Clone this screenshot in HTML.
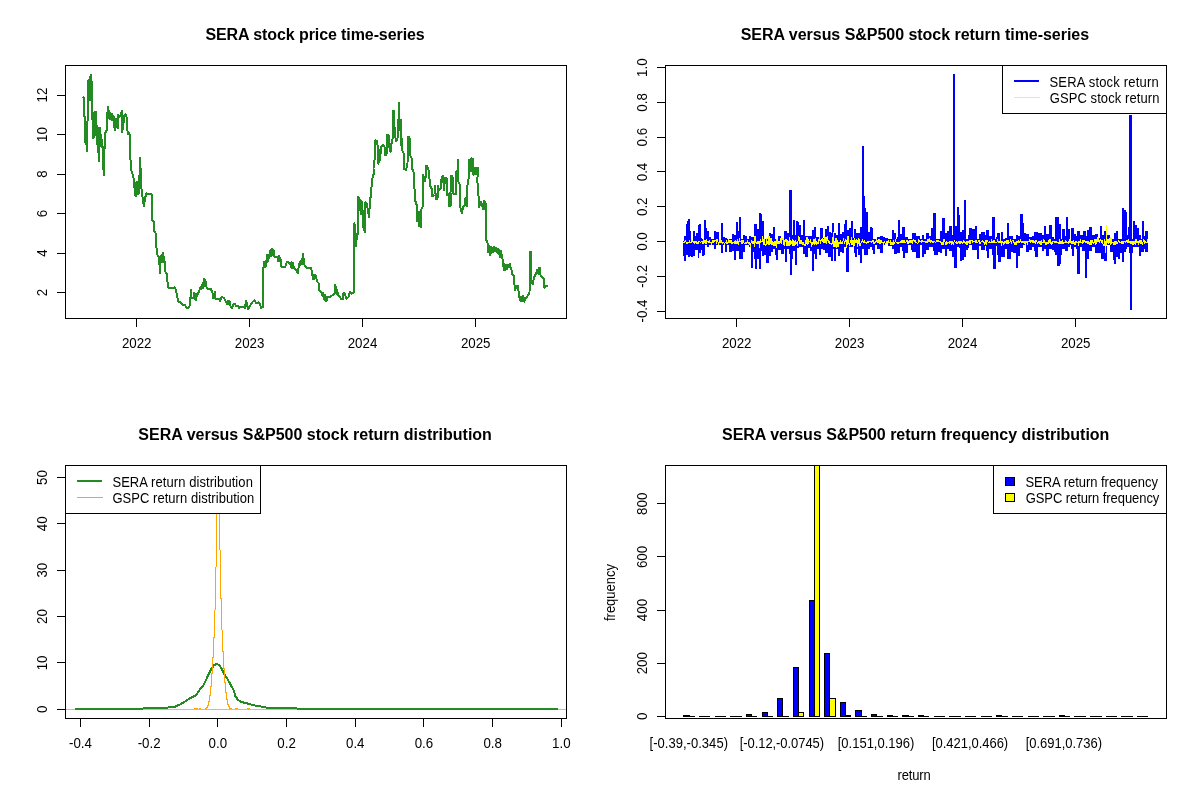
<!DOCTYPE html>
<html><head><meta charset="utf-8"><title>SERA plots</title><style>html,body{margin:0;padding:0;background:#fff}svg{display:block}</style></head><body>
<svg width="1200" height="800" viewBox="0 0 1200 800" font-family="'Liberation Sans', Arial, sans-serif" fill="#000" shape-rendering="crispEdges">
<rect width="1200" height="800" fill="#fff"/>
<polyline points="83.3,97.5 84.0,98.0 84.0,116.0 85.0,117.0 85.3,142.0 86.3,142.5 87.0,151.5 87.3,130.0 87.8,108.0 88.5,80.0 89.0,98.0 89.7,77.0 90.2,100.0 91.0,75.0 91.5,96.0 92.0,82.0 92.5,120.0 93.5,138.5 94.0,113.0 94.5,137.0 95.0,111.5 95.5,134.0 96.0,112.0 96.5,136.0 97.0,126.0 97.5,145.0 98.0,128.0 98.7,161.5 99.3,128.0 99.8,146.0 100.3,127.5 100.8,146.0 101.3,135.0 101.8,147.0 102.3,140.0 103.0,160.0 103.8,175.5 104.5,150.0 105.0,133.0 107.0,130.0 107.5,112.0 108.0,107.0 108.5,118.0 109.0,111.0 109.7,119.0 110.3,113.0 111.0,119.0 111.7,114.0 112.3,120.0 113.5,116.0 114.0,126.0 115.0,130.0 116.0,119.0 117.0,127.0 118.0,128.0 118.0,114.5 119.5,117.0 121.0,114.0 122.0,110.5 122.2,132.5 123.5,123.0 124.0,116.0 125.5,114.0 126.5,117.0 127.0,127.0 128.0,134.0 129.5,133.5 130.0,139.5 130.5,160.0 131.0,170.0 133.0,175.0 134.0,181.0 135.0,195.0 135.5,183.0 136.0,196.5 137.0,182.0 137.8,194.0 138.5,181.0 139.0,193.0 140.0,158.0 141.0,176.0 141.5,189.0 142.5,197.0 144.0,206.5 145.0,198.0 146.5,193.5 151.5,194.0 152.0,196.0 152.2,220.0 154.0,222.0 154.0,231.0 155.5,233.0 155.5,246.0 157.0,249.0 157.5,255.0 159.0,257.0 160.0,273.5 160.5,260.0 161.0,256.0 161.6,262.0 162.2,255.0 162.8,252.5 163.3,262.0 164.0,257.0 164.5,262.0 165.0,261.5 165.5,272.0 167.0,274.5 167.5,282.0 168.5,287.5 170.0,288.5 174.5,287.5 176.0,290.0 177.5,298.0 178.5,301.5 180.0,302.0 183.0,305.5 185.0,305.0 186.5,308.0 188.5,307.5 190.0,305.0 190.5,297.5 191.0,289.5 191.5,298.0 193.5,298.0 194.0,292.5 194.6,299.0 195.2,294.0 196.0,300.0 196.5,294.0 197.0,296.0 200.0,289.0 200.5,287.0 201.3,289.0 202.0,285.0 202.7,288.0 203.3,283.0 204.0,278.5 204.5,286.0 205.2,280.0 206.0,282.0 206.5,287.0 208.0,289.5 211.0,289.0 212.5,293.0 213.0,298.0 215.0,292.0 215.5,298.5 219.0,299.0 220.0,301.0 221.5,297.0 224.0,298.0 226.0,302.0 227.0,304.0 227.8,300.5 228.5,304.5 229.3,300.5 230.0,302.0 230.5,306.0 232.0,308.0 233.5,304.0 235.0,304.0 236.0,306.0 238.5,306.0 239.0,308.0 241.0,306.5 245.0,308.0 246.0,300.5 247.0,304.0 248.0,309.0 250.0,306.0 252.5,302.0 254.5,300.5 256.0,303.0 258.5,302.5 260.0,304.0 261.0,308.0 262.8,307.0 263.0,273.0 264.0,262.0 265.0,267.0 265.7,261.0 266.3,266.0 267.0,255.0 267.8,261.0 268.5,255.5 269.3,258.0 270.0,251.0 270.7,256.0 271.3,249.5 272.0,248.5 272.7,255.0 273.3,250.0 274.0,251.0 274.0,256.5 277.5,256.5 278.0,261.0 278.7,256.0 279.3,261.0 280.0,257.5 281.0,261.0 281.5,267.0 285.0,267.0 287.0,262.0 290.0,263.0 291.0,267.0 291.5,262.5 292.3,268.0 293.0,263.0 293.8,268.0 295.0,269.0 298.0,273.0 299.0,264.0 300.0,265.0 300.5,261.0 301.3,264.0 302.0,259.0 302.6,264.0 303.2,253.5 304.0,264.0 306.0,267.5 311.0,267.5 312.0,273.0 313.0,279.0 313.7,274.5 314.5,279.0 315.2,274.5 316.0,277.0 317.0,281.5 318.5,283.0 319.0,290.5 321.5,292.0 322.5,296.0 323.0,293.0 324.0,299.0 324.7,295.0 325.5,301.0 326.5,301.0 327.3,297.0 329.0,297.5 333.0,295.0 334.5,293.0 335.0,284.5 335.6,293.0 336.2,287.0 336.8,294.5 337.3,290.0 337.8,295.0 339.0,295.5 341.0,299.0 343.0,299.0 343.5,293.0 345.0,294.0 346.5,299.0 348.5,297.0 350.0,292.0 351.5,294.0 354.0,292.0 354.3,247.0 354.5,223.0 355.0,245.0 355.5,233.0 356.0,246.0 357.0,235.0 358.3,234.0 358.0,196.5 359.5,199.0 360.0,207.0 361.0,214.0 361.5,201.0 363.0,215.0 363.5,227.5 365.0,232.5 365.5,202.5 367.0,204.0 368.0,211.0 369.0,217.5 369.5,209.0 370.0,200.5 371.0,194.5 372.0,180.0 373.5,174.5 373.5,168.5 374.0,164.0 375.0,156.0 375.5,140.5 377.0,141.0 378.0,148.0 378.5,164.0 379.0,150.0 380.0,160.0 381.0,147.5 383.0,144.5 384.5,147.0 385.0,155.0 386.5,155.0 387.0,134.5 388.5,135.0 389.0,146.0 390.5,152.0 391.0,145.0 392.5,141.0 392.8,110.5 394.0,111.0 394.7,133.0 396.0,141.0 397.5,139.0 397.8,121.0 398.5,119.0 399.1,102.5 399.5,119.0 399.8,130.0 400.3,120.0 400.7,129.0 401.1,119.5 401.3,145.0 402.2,139.0 402.5,151.0 404.0,154.0 404.0,169.0 406.0,170.0 407.5,164.0 408.0,136.5 409.5,137.0 410.0,155.0 411.5,158.0 412.0,168.0 413.5,172.0 414.5,189.0 415.0,200.0 417.0,206.0 417.0,221.5 418.0,212.0 419.0,226.0 420.0,212.0 421.0,227.5 421.5,209.0 423.0,206.0 423.0,174.5 425.0,181.0 426.0,175.0 426.3,165.5 428.0,168.0 429.0,172.5 430.0,186.0 432.0,189.0 432.0,196.5 434.5,194.5 435.0,185.5 436.0,199.5 437.5,198.5 438.0,186.0 438.5,190.0 441.0,188.5 441.0,180.0 443.0,175.5 444.0,190.0 445.0,177.5 447.0,178.5 447.0,195.0 449.0,194.0 449.0,206.0 450.5,206.0 450.5,193.0 451.0,175.5 452.5,176.5 453.5,194.0 456.0,194.0 456.0,171.5 457.5,171.0 458.0,159.5 458.5,182.0 460.0,185.0 460.0,205.0 461.0,210.0 462.0,213.5 463.0,207.0 465.0,205.0 465.5,198.5 467.0,206.0 467.0,187.0 468.5,180.0 469.0,159.5 470.0,163.0 471.0,171.0 471.5,158.5 473.0,159.0 473.5,175.0 474.0,167.8 475.0,174.0 476.0,168.0 476.8,174.0 477.5,168.0 478.3,168.0 477.3,180.0 478.5,196.0 479.0,207.0 480.0,204.0 481.0,201.5 483.0,209.0 484.0,200.5 485.0,209.0 485.5,202.5 486.0,225.0 486.0,239.0 487.5,243.0 488.0,252.0 489.0,245.5 490.0,255.0 490.8,246.5 491.5,253.0 492.3,247.5 493.0,252.0 494.0,247.0 495.0,251.0 496.0,247.5 497.0,252.0 497.8,248.5 498.5,254.0 499.3,250.0 500.3,257.0 501.0,251.0 502.0,256.0 502.5,259.0 503.0,263.0 504.0,270.0 504.5,264.0 505.3,270.0 506.0,264.5 507.0,269.0 507.8,264.5 508.8,267.0 510.0,264.0 510.5,267.0 512.0,271.0 512.5,274.5 514.0,275.5 514.5,285.0 515.0,290.0 516.5,286.0 518.0,286.0 518.5,291.0 519.5,298.0 520.5,301.0 521.3,297.0 522.0,301.0 522.7,295.5 523.5,300.0 524.5,301.5 525.2,298.0 526.0,298.5 527.5,296.0 529.5,293.0 530.0,251.5 531.2,252.0 531.5,283.0 533.0,284.0 534.0,277.0 536.0,274.0 537.3,269.5 538.0,273.0 538.6,268.5 539.2,274.0 539.7,268.0 540.5,275.0 542.0,277.5 543.5,277.5 543.5,284.0 544.5,288.0 545.5,286.0 547.5,286.0" fill="none" stroke="#228B22" stroke-width="2" stroke-linejoin="round" stroke-linecap="round"/>
<rect x="65.50" y="65.50" width="501.00" height="253.00" fill="none" stroke="#000" stroke-width="1"/>
<line x1="136.00" y1="318.50" x2="476.00" y2="318.50" stroke="#000" stroke-width="1"/>
<line x1="136.50" y1="318.00" x2="136.50" y2="327.00" stroke="#000" stroke-width="1"/>
<text transform="translate(136.70 348.23) scale(1 1.085)" text-anchor="middle" font-size="13.33">2022</text>
<line x1="249.50" y1="318.00" x2="249.50" y2="327.00" stroke="#000" stroke-width="1"/>
<text transform="translate(249.60 348.23) scale(1 1.085)" text-anchor="middle" font-size="13.33">2023</text>
<line x1="362.50" y1="318.00" x2="362.50" y2="327.00" stroke="#000" stroke-width="1"/>
<text transform="translate(362.50 348.23) scale(1 1.085)" text-anchor="middle" font-size="13.33">2024</text>
<line x1="475.50" y1="318.00" x2="475.50" y2="327.00" stroke="#000" stroke-width="1"/>
<text transform="translate(475.70 348.23) scale(1 1.085)" text-anchor="middle" font-size="13.33">2025</text>
<line x1="65.50" y1="95.00" x2="65.50" y2="293.00" stroke="#000" stroke-width="1"/>
<line x1="57.00" y1="292.50" x2="66.00" y2="292.50" stroke="#000" stroke-width="1"/>
<text transform="translate(46.94 292.50) rotate(-90) scale(1 1.085)" text-anchor="middle" font-size="13.33">2</text>
<line x1="57.00" y1="253.50" x2="66.00" y2="253.50" stroke="#000" stroke-width="1"/>
<text transform="translate(46.94 253.00) rotate(-90) scale(1 1.085)" text-anchor="middle" font-size="13.33">4</text>
<line x1="57.00" y1="213.50" x2="66.00" y2="213.50" stroke="#000" stroke-width="1"/>
<text transform="translate(46.94 213.50) rotate(-90) scale(1 1.085)" text-anchor="middle" font-size="13.33">6</text>
<line x1="57.00" y1="174.50" x2="66.00" y2="174.50" stroke="#000" stroke-width="1"/>
<text transform="translate(46.94 174.00) rotate(-90) scale(1 1.085)" text-anchor="middle" font-size="13.33">8</text>
<line x1="57.00" y1="134.50" x2="66.00" y2="134.50" stroke="#000" stroke-width="1"/>
<text transform="translate(46.94 134.50) rotate(-90) scale(1 1.085)" text-anchor="middle" font-size="13.33">10</text>
<line x1="57.00" y1="95.50" x2="66.00" y2="95.50" stroke="#000" stroke-width="1"/>
<text transform="translate(46.94 95.00) rotate(-90) scale(1 1.085)" text-anchor="middle" font-size="13.33">12</text>
<text x="205.40" y="40.00" text-anchor="start" font-size="16" font-weight="bold" textLength="219.3" lengthAdjust="spacing">SERA stock price time-series</text>
<path d="M683 241.0h1V256.0h-1zM684 236.0h1V261.0h-1zM685 236.0h1V261.0h-1zM686 224.0h1V255.0h-1zM687 221.0h1V255.0h-1zM688 219.0h1V257.0h-1zM689 219.0h1V257.0h-1zM690 231.0h1V256.0h-1zM691 240.0h1V257.0h-1zM692 240.0h1V257.0h-1zM693 231.0h1V256.0h-1zM694 231.0h1V256.0h-1zM695 236.0h1V250.0h-1zM696 233.0h1V250.0h-1zM697 233.0h1V250.0h-1zM698 225.0h1V258.0h-1zM699 224.0h1V253.0h-1zM700 224.0h1V253.0h-1zM701 238.0h1V250.0h-1zM702 239.0h1V256.0h-1zM703 239.0h1V256.0h-1zM704 220.0h1V255.0h-1zM705 220.0h1V245.0h-1zM706 228.0h1V245.0h-1zM707 231.0h1V247.0h-1zM708 231.0h1V247.0h-1zM709 237.0h1V245.0h-1zM710 237.0h1V245.0h-1zM711 239.0h1V245.0h-1zM712 239.0h1V245.0h-1zM713 239.0h1V245.0h-1zM714 231.0h1V249.0h-1zM715 231.0h1V249.0h-1zM716 232.0h1V245.0h-1zM717 232.0h1V245.0h-1zM718 232.0h1V245.0h-1zM719 239.0h1V245.0h-1zM720 239.0h1V245.0h-1zM721 223.0h1V253.0h-1zM722 223.0h1V253.0h-1zM723 237.0h1V245.0h-1zM724 237.0h1V245.0h-1zM725 238.0h1V252.0h-1zM726 238.0h1V252.0h-1zM727 239.0h1V245.0h-1zM728 239.0h1V245.0h-1zM729 239.0h1V252.0h-1zM730 239.0h1V252.0h-1zM731 239.0h1V252.0h-1zM732 234.0h1V251.0h-1zM733 234.0h1V251.0h-1zM734 235.0h1V260.0h-1zM735 235.0h1V260.0h-1zM736 222.0h1V251.0h-1zM737 222.0h1V251.0h-1zM738 231.0h1V251.0h-1zM739 217.0h1V259.0h-1zM740 217.0h1V259.0h-1zM741 239.0h1V259.0h-1zM742 239.0h1V259.0h-1zM743 235.0h1V252.0h-1zM744 235.0h1V252.0h-1zM745 236.0h1V245.0h-1zM746 236.0h1V245.0h-1zM747 239.0h1V245.0h-1zM748 239.0h1V245.0h-1zM749 236.0h1V247.0h-1zM750 236.0h1V247.0h-1zM751 237.0h1V268.0h-1zM752 237.0h1V268.0h-1zM753 237.0h1V252.0h-1zM754 224.0h1V259.0h-1zM755 224.0h1V269.0h-1zM756 224.0h1V269.0h-1zM757 229.0h1V259.0h-1zM758 229.0h1V259.0h-1zM759 213.0h1V269.0h-1zM760 213.0h1V269.0h-1zM761 214.0h1V251.0h-1zM762 221.0h1V256.0h-1zM763 221.0h1V256.0h-1zM764 239.0h1V255.0h-1zM765 239.0h1V255.0h-1zM766 239.0h1V263.0h-1zM767 239.0h1V263.0h-1zM768 239.0h1V263.0h-1zM769 233.0h1V256.0h-1zM770 233.0h1V256.0h-1zM771 234.0h1V252.0h-1zM772 234.0h1V252.0h-1zM773 227.0h1V249.0h-1zM774 227.0h1V249.0h-1zM775 239.0h1V255.0h-1zM776 239.0h1V260.0h-1zM777 239.0h1V260.0h-1zM778 236.0h1V250.0h-1zM779 236.0h1V250.0h-1zM780 236.0h1V250.0h-1zM781 239.0h1V254.0h-1zM782 239.0h1V254.0h-1zM783 239.0h1V254.0h-1zM784 231.0h1V249.0h-1zM785 231.0h1V262.0h-1zM786 231.0h1V262.0h-1zM787 233.0h1V249.0h-1zM788 233.0h1V249.0h-1zM789 190.0h1V254.0h-1zM790 190.0h1V274.5h-1zM791 190.0h1V274.5h-1zM792 235.0h1V259.0h-1zM793 220.0h1V251.0h-1zM794 220.0h1V251.0h-1zM795 235.0h1V265.0h-1zM796 221.0h1V265.0h-1zM797 221.0h1V248.0h-1zM798 222.0h1V248.0h-1zM799 225.0h1V247.0h-1zM800 225.0h1V247.0h-1zM801 235.0h1V247.0h-1zM802 235.0h1V247.0h-1zM803 220.0h1V254.0h-1zM804 220.0h1V254.0h-1zM805 236.0h1V257.0h-1zM806 236.0h1V257.0h-1zM807 236.0h1V257.0h-1zM808 236.0h1V248.0h-1zM809 236.0h1V248.0h-1zM810 236.0h1V251.0h-1zM811 236.0h1V251.0h-1zM812 230.0h1V271.0h-1zM813 230.0h1V271.0h-1zM814 227.0h1V254.0h-1zM815 227.0h1V259.0h-1zM816 237.0h1V259.0h-1zM817 237.0h1V249.0h-1zM818 237.0h1V249.0h-1zM819 237.0h1V255.0h-1zM820 228.0h1V255.0h-1zM821 228.0h1V249.0h-1zM822 228.0h1V249.0h-1zM823 238.0h1V250.0h-1zM824 238.0h1V250.0h-1zM825 229.0h1V253.0h-1zM826 229.0h1V253.0h-1zM827 226.0h1V253.0h-1zM828 226.0h1V257.0h-1zM829 232.0h1V257.0h-1zM830 232.0h1V257.0h-1zM831 233.0h1V261.0h-1zM832 223.0h1V261.0h-1zM833 223.0h1V249.0h-1zM834 233.0h1V261.0h-1zM835 233.0h1V261.0h-1zM836 235.0h1V249.0h-1zM837 235.0h1V249.0h-1zM838 223.0h1V256.0h-1zM839 223.0h1V256.0h-1zM840 234.0h1V252.0h-1zM841 234.0h1V252.0h-1zM842 232.0h1V253.0h-1zM843 232.0h1V253.0h-1zM844 224.0h1V247.0h-1zM845 220.0h1V247.0h-1zM846 220.0h1V272.0h-1zM847 230.0h1V272.0h-1zM848 230.0h1V272.0h-1zM849 228.0h1V247.0h-1zM850 228.0h1V247.0h-1zM851 221.0h1V247.0h-1zM852 221.0h1V247.0h-1zM853 238.0h1V247.0h-1zM854 229.0h1V253.0h-1zM855 229.0h1V257.0h-1zM856 233.0h1V257.0h-1zM857 233.0h1V249.0h-1zM858 233.0h1V255.0h-1zM859 233.0h1V255.0h-1zM860 227.0h1V263.0h-1zM861 227.0h1V263.0h-1zM862 146.0h1V249.0h-1zM863 146.0h1V249.0h-1zM864 196.0h1V255.0h-1zM865 208.0h1V255.0h-1zM866 212.0h1V255.0h-1zM867 212.0h1V255.0h-1zM868 232.0h1V249.0h-1zM869 232.0h1V249.0h-1zM870 227.0h1V247.0h-1zM871 227.0h1V247.0h-1zM872 228.0h1V250.0h-1zM873 239.0h1V254.0h-1zM874 239.0h1V254.0h-1zM875 239.0h1V245.0h-1zM876 239.0h1V245.0h-1zM877 237.0h1V249.0h-1zM878 237.0h1V249.0h-1zM879 237.0h1V249.0h-1zM880 236.0h1V253.0h-1zM881 236.0h1V253.0h-1zM882 236.0h1V253.0h-1zM883 237.0h1V245.0h-1zM884 237.0h1V245.0h-1zM885 238.0h1V243.0h-1zM886 238.0h1V243.0h-1zM887 238.0h1V243.0h-1zM888 239.0h1V246.0h-1zM889 239.0h1V246.0h-1zM890 239.0h1V246.0h-1zM891 239.0h1V246.0h-1zM892 230.0h1V249.0h-1zM893 230.0h1V249.0h-1zM894 233.0h1V254.0h-1zM895 233.0h1V254.0h-1zM896 239.0h1V254.0h-1zM897 237.0h1V253.0h-1zM898 220.0h1V253.0h-1zM899 220.0h1V253.0h-1zM900 234.0h1V247.0h-1zM901 234.0h1V247.0h-1zM902 227.0h1V251.0h-1zM903 227.0h1V258.0h-1zM904 227.0h1V258.0h-1zM905 237.0h1V253.0h-1zM906 237.0h1V253.0h-1zM907 237.0h1V253.0h-1zM908 239.0h1V245.0h-1zM909 239.0h1V245.0h-1zM910 239.0h1V245.0h-1zM911 239.0h1V250.0h-1zM912 233.0h1V252.0h-1zM913 233.0h1V252.0h-1zM914 233.0h1V252.0h-1zM915 233.0h1V252.0h-1zM916 236.0h1V258.0h-1zM917 236.0h1V258.0h-1zM918 236.0h1V258.0h-1zM919 236.0h1V258.0h-1zM920 239.0h1V245.0h-1zM921 239.0h1V245.0h-1zM922 235.0h1V257.0h-1zM923 235.0h1V257.0h-1zM924 239.0h1V254.0h-1zM925 239.0h1V254.0h-1zM926 233.0h1V250.0h-1zM927 233.0h1V250.0h-1zM928 233.0h1V250.0h-1zM929 236.0h1V247.0h-1zM930 236.0h1V247.0h-1zM931 228.0h1V247.0h-1zM932 228.0h1V247.0h-1zM933 213.0h1V251.0h-1zM934 213.0h1V255.0h-1zM935 213.0h1V255.0h-1zM936 239.0h1V255.0h-1zM937 239.0h1V255.0h-1zM938 239.0h1V252.0h-1zM939 239.0h1V252.0h-1zM940 231.0h1V253.0h-1zM941 231.0h1V253.0h-1zM942 218.0h1V249.0h-1zM943 218.0h1V249.0h-1zM944 218.0h1V249.0h-1zM945 233.0h1V256.0h-1zM946 233.0h1V256.0h-1zM947 231.0h1V249.0h-1zM948 231.0h1V249.0h-1zM949 226.0h1V251.0h-1zM950 226.0h1V251.0h-1zM951 226.0h1V251.0h-1zM952 235.0h1V257.0h-1zM953 73.8h1V257.0h-1zM954 73.8h1V268.0h-1zM955 226.0h1V268.0h-1zM956 226.0h1V268.0h-1zM957 207.0h1V247.0h-1zM958 207.0h1V247.0h-1zM959 215.0h1V248.0h-1zM960 232.0h1V261.0h-1zM961 232.0h1V261.0h-1zM962 230.0h1V260.0h-1zM963 230.0h1V260.0h-1zM964 200.0h1V257.0h-1zM965 200.0h1V257.0h-1zM966 239.0h1V250.0h-1zM967 239.0h1V250.0h-1zM968 235.0h1V248.0h-1zM969 228.0h1V245.0h-1zM970 228.0h1V245.0h-1zM971 228.0h1V245.0h-1zM972 229.0h1V250.0h-1zM973 229.0h1V250.0h-1zM974 229.0h1V250.0h-1zM975 226.0h1V250.0h-1zM976 226.0h1V250.0h-1zM977 239.0h1V259.0h-1zM978 239.0h1V259.0h-1zM979 234.0h1V246.0h-1zM980 234.0h1V246.0h-1zM981 232.0h1V250.0h-1zM982 232.0h1V250.0h-1zM983 232.0h1V250.0h-1zM984 232.0h1V250.0h-1zM985 235.0h1V246.0h-1zM986 230.0h1V251.0h-1zM987 230.0h1V258.0h-1zM988 230.0h1V258.0h-1zM989 236.0h1V249.0h-1zM990 236.0h1V249.0h-1zM991 236.0h1V249.0h-1zM992 217.0h1V255.0h-1zM993 217.0h1V269.0h-1zM994 217.0h1V269.0h-1zM995 239.0h1V269.0h-1zM996 237.0h1V246.0h-1zM997 233.0h1V255.0h-1zM998 233.0h1V262.0h-1zM999 233.0h1V262.0h-1zM1000 239.0h1V262.0h-1zM1001 232.0h1V257.0h-1zM1002 232.0h1V257.0h-1zM1003 239.0h1V257.0h-1zM1004 239.0h1V257.0h-1zM1005 238.0h1V249.0h-1zM1006 238.0h1V249.0h-1zM1007 223.0h1V259.0h-1zM1008 223.0h1V259.0h-1zM1009 236.0h1V259.0h-1zM1010 236.0h1V259.0h-1zM1011 236.0h1V252.0h-1zM1012 236.0h1V252.0h-1zM1013 239.0h1V253.0h-1zM1014 239.0h1V253.0h-1zM1015 239.0h1V253.0h-1zM1016 235.0h1V268.0h-1zM1017 235.0h1V268.0h-1zM1018 236.0h1V256.0h-1zM1019 236.0h1V256.0h-1zM1020 214.0h1V248.0h-1zM1021 214.0h1V248.0h-1zM1022 214.0h1V248.0h-1zM1023 223.0h1V245.0h-1zM1024 233.0h1V245.0h-1zM1025 233.0h1V245.0h-1zM1026 234.0h1V252.0h-1zM1027 234.0h1V252.0h-1zM1028 234.0h1V252.0h-1zM1029 237.0h1V250.0h-1zM1030 237.0h1V250.0h-1zM1031 237.0h1V250.0h-1zM1032 236.0h1V247.0h-1zM1033 236.0h1V247.0h-1zM1034 232.0h1V251.0h-1zM1035 232.0h1V257.0h-1zM1036 232.0h1V257.0h-1zM1037 232.0h1V257.0h-1zM1038 233.0h1V247.0h-1zM1039 233.0h1V247.0h-1zM1040 233.0h1V247.0h-1zM1041 233.0h1V247.0h-1zM1042 235.0h1V251.0h-1zM1043 235.0h1V251.0h-1zM1044 226.0h1V249.0h-1zM1045 226.0h1V249.0h-1zM1046 234.0h1V256.0h-1zM1047 234.0h1V256.0h-1zM1048 234.0h1V256.0h-1zM1049 225.0h1V249.0h-1zM1050 225.0h1V249.0h-1zM1051 225.0h1V249.0h-1zM1052 237.0h1V250.0h-1zM1053 237.0h1V250.0h-1zM1054 239.0h1V252.0h-1zM1055 217.0h1V255.0h-1zM1056 217.0h1V255.0h-1zM1057 217.0h1V266.0h-1zM1058 217.0h1V266.0h-1zM1059 224.0h1V266.0h-1zM1060 224.0h1V264.0h-1zM1061 239.0h1V255.0h-1zM1062 229.0h1V249.0h-1zM1063 229.0h1V249.0h-1zM1064 229.0h1V249.0h-1zM1065 236.0h1V251.0h-1zM1066 217.0h1V251.0h-1zM1067 217.0h1V251.0h-1zM1068 229.0h1V247.0h-1zM1069 229.0h1V247.0h-1zM1070 239.0h1V245.0h-1zM1071 228.0h1V249.0h-1zM1072 228.0h1V256.0h-1zM1073 228.0h1V256.0h-1zM1074 234.0h1V247.0h-1zM1075 234.0h1V247.0h-1zM1076 236.0h1V249.0h-1zM1077 231.0h1V274.0h-1zM1078 231.0h1V274.0h-1zM1079 231.0h1V274.0h-1zM1080 235.0h1V247.0h-1zM1081 235.0h1V247.0h-1zM1082 235.0h1V251.0h-1zM1083 231.0h1V251.0h-1zM1084 231.0h1V251.0h-1zM1085 231.0h1V278.0h-1zM1086 236.0h1V278.0h-1zM1087 230.0h1V259.0h-1zM1088 230.0h1V259.0h-1zM1089 227.0h1V251.0h-1zM1090 227.0h1V251.0h-1zM1091 227.0h1V251.0h-1zM1092 235.0h1V247.0h-1zM1093 235.0h1V247.0h-1zM1094 235.0h1V247.0h-1zM1095 234.0h1V253.0h-1zM1096 234.0h1V253.0h-1zM1097 234.0h1V253.0h-1zM1098 238.0h1V253.0h-1zM1099 238.0h1V253.0h-1zM1100 226.0h1V253.0h-1zM1101 226.0h1V259.0h-1zM1102 235.0h1V259.0h-1zM1103 235.0h1V259.0h-1zM1104 231.0h1V261.0h-1zM1105 231.0h1V261.0h-1zM1106 239.0h1V261.0h-1zM1107 235.0h1V245.0h-1zM1108 235.0h1V245.0h-1zM1109 235.0h1V245.0h-1zM1110 239.0h1V252.0h-1zM1111 239.0h1V252.0h-1zM1112 239.0h1V252.0h-1zM1113 239.0h1V260.0h-1zM1114 233.0h1V264.0h-1zM1115 233.0h1V264.0h-1zM1116 231.0h1V257.0h-1zM1117 231.0h1V257.0h-1zM1118 239.0h1V259.0h-1zM1119 239.0h1V259.0h-1zM1120 239.0h1V253.0h-1zM1121 239.0h1V253.0h-1zM1122 208.0h1V262.0h-1zM1123 208.0h1V262.0h-1zM1124 210.0h1V252.0h-1zM1125 210.0h1V252.0h-1zM1126 212.0h1V249.0h-1zM1127 235.0h1V247.0h-1zM1128 227.0h1V247.0h-1zM1129 115.2h1V253.0h-1zM1130 115.2h1V310.0h-1zM1131 115.2h1V310.0h-1zM1132 239.0h1V253.0h-1zM1133 221.0h1V247.0h-1zM1134 221.0h1V247.0h-1zM1135 225.0h1V247.0h-1zM1136 225.0h1V247.0h-1zM1137 228.0h1V247.0h-1zM1138 228.0h1V247.0h-1zM1139 235.0h1V256.0h-1zM1140 235.0h1V256.0h-1zM1141 239.0h1V252.0h-1zM1142 221.0h1V252.0h-1zM1143 221.0h1V252.0h-1zM1144 236.0h1V249.0h-1zM1145 231.0h1V252.0h-1zM1146 231.0h1V252.0h-1zM1147 231.0h1V252.0h-1z" fill="#0000FF"/>
<polyline points="683.5,241.7 684.0,242.7 684.5,241.7 685.0,241.6 685.5,240.8 686.0,241.7 686.5,243.4 687.0,242.6 687.5,243.3 688.0,242.3 688.5,242.5 689.0,242.2 689.5,239.8 690.0,243.1 690.5,242.7 691.0,242.6 691.5,239.8 692.0,239.7 692.5,240.8 693.0,241.4 693.5,242.4 694.0,241.9 694.5,242.7 695.0,241.2 695.5,242.4 696.0,242.5 696.5,241.1 697.0,244.2 697.5,242.7 698.0,243.6 698.5,241.2 699.0,241.0 699.5,241.6 700.0,241.9 700.5,242.8 701.0,242.3 701.5,241.4 702.0,240.8 702.5,241.3 703.0,243.6 703.5,240.9 704.0,242.3 704.5,242.6 705.0,240.1 705.5,242.1 706.0,243.7 706.5,239.4 707.0,241.6 707.5,241.9 708.0,240.9 708.5,242.6 709.0,241.9 709.5,240.1 710.0,243.1 710.5,242.9 711.0,243.2 711.5,243.9 712.0,242.5 712.5,242.2 713.0,240.3 713.5,242.8 714.0,241.2 714.5,241.4 715.0,240.4 715.5,240.7 716.0,241.3 716.5,243.7 717.0,239.4 717.5,240.1 718.0,242.3 718.5,243.9 719.0,242.8 719.5,239.5 720.0,239.0 720.5,242.5 721.0,241.0 721.5,240.5 722.0,243.3 722.5,243.4 723.0,242.2 723.5,242.3 724.0,242.6 724.5,244.1 725.0,242.8 725.5,242.7 726.0,242.7 726.5,240.0 727.0,243.7 727.5,243.2 728.0,242.7 728.5,239.4 729.0,241.2 729.5,243.1 730.0,239.6 730.5,241.8 731.0,243.3 731.5,240.3 732.0,244.1 732.5,242.7 733.0,241.8 733.5,242.4 734.0,242.8 734.5,242.2 735.0,243.8 735.5,240.9 736.0,241.3 736.5,243.7 737.0,242.0 737.5,240.6 738.0,243.5 738.5,244.3 739.0,241.3 739.5,239.8 740.0,241.8 740.5,241.8 741.0,241.5 741.5,244.2 742.0,240.4 742.5,244.0 743.0,240.0 743.5,240.7 744.0,243.0 744.5,243.8 745.0,244.1 745.5,242.9 746.0,242.4 746.5,242.4 747.0,243.4 747.5,241.6 748.0,242.7 748.5,243.4 749.0,242.0 749.5,243.9 750.0,243.4 750.5,247.0 751.0,242.8 751.5,240.9 752.0,241.1 752.5,242.0 753.0,244.3 753.5,241.2 754.0,243.0 754.5,246.6 755.0,236.2 755.5,239.2 756.0,242.6 756.5,243.0 757.0,242.6 757.5,240.9 758.0,243.6 758.5,242.7 759.0,240.7 759.5,247.8 760.0,242.9 760.5,240.6 761.0,241.8 761.5,241.4 762.0,241.8 762.5,236.2 763.0,240.8 763.5,244.5 764.0,239.1 764.5,241.8 765.0,244.4 765.5,244.1 766.0,245.7 766.5,237.7 767.0,241.1 767.5,241.1 768.0,243.6 768.5,244.7 769.0,236.2 769.5,244.7 770.0,238.4 770.5,243.7 771.0,238.3 771.5,242.4 772.0,245.0 772.5,241.6 773.0,242.5 773.5,244.0 774.0,242.4 774.5,241.8 775.0,245.8 775.5,244.6 776.0,241.3 776.5,247.8 777.0,239.1 777.5,244.3 778.0,241.3 778.5,242.3 779.0,243.8 779.5,242.6 780.0,243.6 780.5,238.2 781.0,238.2 781.5,243.5 782.0,239.6 782.5,239.4 783.0,238.3 783.5,245.2 784.0,243.9 784.5,245.7 785.0,239.7 785.5,242.0 786.0,239.1 786.5,243.9 787.0,246.0 787.5,239.8 788.0,245.9 788.5,244.5 789.0,241.6 789.5,237.1 790.0,245.5 790.5,241.8 791.0,240.5 791.5,243.0 792.0,243.0 792.5,245.7 793.0,239.4 793.5,244.8 794.0,245.7 794.5,245.6 795.0,241.5 795.5,240.1 796.0,244.5 796.5,242.3 797.0,242.3 797.5,245.6 798.0,241.3 798.5,236.3 799.0,241.0 799.5,237.4 800.0,244.0 800.5,242.8 801.0,240.5 801.5,242.0 802.0,244.1 802.5,242.2 803.0,245.3 803.5,241.8 804.0,244.6 804.5,245.7 805.0,246.0 805.5,240.3 806.0,244.2 806.5,237.3 807.0,239.3 807.5,237.1 808.0,244.7 808.5,238.9 809.0,242.0 809.5,241.5 810.0,241.9 810.5,240.5 811.0,242.6 811.5,246.5 812.0,242.1 812.5,243.3 813.0,244.5 813.5,241.5 814.0,238.9 814.5,240.6 815.0,244.7 815.5,237.9 816.0,240.5 816.5,244.5 817.0,244.0 817.5,242.0 818.0,244.0 818.5,242.4 819.0,239.1 819.5,238.1 820.0,240.4 820.5,244.3 821.0,240.6 821.5,239.7 822.0,240.1 822.5,238.2 823.0,241.7 823.5,239.1 824.0,242.9 824.5,236.2 825.0,242.8 825.5,240.4 826.0,237.1 826.5,243.8 827.0,241.3 827.5,236.4 828.0,239.8 828.5,242.7 829.0,240.9 829.5,243.9 830.0,243.9 830.5,243.7 831.0,242.8 831.5,245.3 832.0,243.6 832.5,243.1 833.0,236.8 833.5,232.5 834.0,247.0 834.5,241.3 835.0,240.8 835.5,246.9 836.0,237.6 836.5,243.2 837.0,247.8 837.5,239.7 838.0,243.7 838.5,246.7 839.0,241.7 839.5,243.4 840.0,244.3 840.5,239.7 841.0,241.8 841.5,242.7 842.0,244.1 842.5,241.9 843.0,241.5 843.5,239.5 844.0,241.1 844.5,244.2 845.0,242.3 845.5,239.9 846.0,239.9 846.5,247.8 847.0,244.8 847.5,243.6 848.0,236.2 848.5,243.6 849.0,243.2 849.5,246.2 850.0,243.1 850.5,241.8 851.0,243.3 851.5,237.1 852.0,244.6 852.5,242.8 853.0,240.2 853.5,245.3 854.0,246.5 854.5,238.5 855.0,240.3 855.5,242.7 856.0,242.5 856.5,241.0 857.0,239.6 857.5,247.3 858.0,244.6 858.5,239.0 859.0,238.6 859.5,246.3 860.0,243.5 860.5,244.7 861.0,243.2 861.5,240.7 862.0,242.4 862.5,238.8 863.0,240.9 863.5,241.9 864.0,242.8 864.5,240.9 865.0,241.8 865.5,242.7 866.0,242.6 866.5,243.0 867.0,242.3 867.5,241.5 868.0,243.2 868.5,242.1 869.0,240.8 869.5,241.1 870.0,242.0 870.5,241.8 871.0,242.2 871.5,242.0 872.0,242.3 872.5,241.8 873.0,240.1 873.5,242.6 874.0,243.6 874.5,242.7 875.0,241.8 875.5,242.5 876.0,240.9 876.5,239.8 877.0,242.1 877.5,240.9 878.0,242.9 878.5,240.8 879.0,239.4 879.5,240.8 880.0,243.8 880.5,241.6 881.0,240.4 881.5,241.1 882.0,242.6 882.5,242.6 883.0,242.2 883.5,243.7 884.0,242.8 884.5,242.0 885.0,242.7 885.5,243.9 886.0,243.1 886.5,243.2 887.0,240.8 887.5,241.8 888.0,242.8 888.5,241.7 889.0,243.2 889.5,242.7 890.0,243.0 890.5,241.8 891.0,244.6 891.5,243.4 892.0,241.8 892.5,242.1 893.0,244.6 893.5,241.6 894.0,243.0 894.5,243.1 895.0,242.0 895.5,240.7 896.0,242.2 896.5,242.4 897.0,243.3 897.5,242.9 898.0,242.0 898.5,243.0 899.0,242.6 899.5,242.2 900.0,242.1 900.5,241.7 901.0,242.8 901.5,240.8 902.0,241.3 902.5,242.0 903.0,240.3 903.5,241.5 904.0,239.7 904.5,241.2 905.0,242.7 905.5,242.7 906.0,241.9 906.5,241.7 907.0,240.4 907.5,244.1 908.0,242.6 908.5,243.3 909.0,241.0 909.5,241.8 910.0,239.9 910.5,242.9 911.0,243.1 911.5,239.8 912.0,241.9 912.5,242.7 913.0,240.0 913.5,239.9 914.0,240.8 914.5,241.3 915.0,240.4 915.5,242.0 916.0,242.3 916.5,242.7 917.0,242.8 917.5,243.7 918.0,243.3 918.5,240.5 919.0,241.4 919.5,240.8 920.0,240.8 920.5,241.9 921.0,242.0 921.5,242.6 922.0,240.2 922.5,240.6 923.0,242.0 923.5,241.8 924.0,241.6 924.5,241.9 925.0,241.1 925.5,242.8 926.0,242.4 926.5,241.9 927.0,241.2 927.5,241.8 928.0,239.4 928.5,240.9 929.0,242.0 929.5,240.3 930.0,242.2 930.5,242.2 931.0,240.4 931.5,241.7 932.0,241.6 932.5,242.5 933.0,242.7 933.5,242.0 934.0,241.0 934.5,241.8 935.0,241.9 935.5,242.8 936.0,242.3 936.5,241.2 937.0,240.4 937.5,241.6 938.0,241.1 938.5,240.7 939.0,241.9 939.5,241.4 940.0,242.1 940.5,242.6 941.0,241.5 941.5,244.6 942.0,241.6 942.5,243.3 943.0,242.1 943.5,243.3 944.0,239.4 944.5,241.1 945.0,242.3 945.5,242.7 946.0,244.6 946.5,242.4 947.0,243.5 947.5,242.9 948.0,243.1 948.5,242.6 949.0,241.8 949.5,242.6 950.0,240.8 950.5,243.4 951.0,240.8 951.5,242.3 952.0,244.4 952.5,241.7 953.0,242.0 953.5,243.3 954.0,242.0 954.5,241.1 955.0,242.3 955.5,242.7 956.0,242.8 956.5,241.1 957.0,244.0 957.5,243.9 958.0,242.0 958.5,242.3 959.0,241.5 959.5,243.6 960.0,241.2 960.5,242.8 961.0,241.4 961.5,241.2 962.0,242.8 962.5,243.5 963.0,242.0 963.5,241.2 964.0,242.9 964.5,241.9 965.0,242.4 965.5,243.8 966.0,243.3 966.5,241.4 967.0,244.6 967.5,242.0 968.0,242.9 968.5,241.3 969.0,241.9 969.5,240.0 970.0,244.1 970.5,243.6 971.0,240.6 971.5,240.3 972.0,240.1 972.5,243.4 973.0,241.5 973.5,241.9 974.0,241.6 974.5,241.9 975.0,240.7 975.5,242.0 976.0,240.3 976.5,241.9 977.0,242.4 977.5,242.5 978.0,241.7 978.5,241.0 979.0,242.2 979.5,241.4 980.0,243.8 980.5,242.9 981.0,241.9 981.5,241.5 982.0,241.2 982.5,240.9 983.0,241.6 983.5,242.3 984.0,242.6 984.5,242.7 985.0,244.4 985.5,241.2 986.0,242.0 986.5,244.6 987.0,239.9 987.5,241.4 988.0,242.2 988.5,242.2 989.0,242.5 989.5,241.7 990.0,242.4 990.5,242.1 991.0,242.9 991.5,239.8 992.0,241.0 992.5,242.0 993.0,240.8 993.5,240.8 994.0,242.7 994.5,241.3 995.0,242.7 995.5,242.9 996.0,242.4 996.5,242.6 997.0,241.9 997.5,240.4 998.0,242.0 998.5,242.5 999.0,241.4 999.5,241.9 1000.0,242.9 1000.5,241.0 1001.0,242.7 1001.5,244.1 1002.0,241.4 1002.5,242.2 1003.0,241.8 1003.5,243.8 1004.0,242.4 1004.5,243.0 1005.0,241.2 1005.5,242.0 1006.0,242.0 1006.5,240.0 1007.0,243.7 1007.5,243.0 1008.0,240.0 1008.5,242.9 1009.0,241.8 1009.5,242.5 1010.0,242.4 1010.5,240.3 1011.0,241.8 1011.5,243.7 1012.0,241.3 1012.5,240.8 1013.0,240.4 1013.5,240.6 1014.0,242.4 1014.5,243.9 1015.0,242.5 1015.5,242.3 1016.0,244.6 1016.5,241.4 1017.0,241.2 1017.5,242.6 1018.0,242.6 1018.5,240.8 1019.0,240.7 1019.5,242.3 1020.0,242.3 1020.5,240.5 1021.0,241.8 1021.5,241.4 1022.0,242.5 1022.5,241.9 1023.0,241.9 1023.5,241.6 1024.0,243.2 1024.5,243.6 1025.0,241.6 1025.5,243.0 1026.0,241.1 1026.5,242.1 1027.0,242.9 1027.5,243.7 1028.0,241.6 1028.5,241.9 1029.0,242.2 1029.5,240.3 1030.0,242.0 1030.5,241.2 1031.0,242.4 1031.5,240.7 1032.0,239.7 1032.5,242.0 1033.0,242.3 1033.5,241.4 1034.0,243.0 1034.5,241.7 1035.0,241.3 1035.5,242.5 1036.0,240.2 1036.5,241.2 1037.0,242.0 1037.5,243.0 1038.0,241.8 1038.5,242.4 1039.0,241.2 1039.5,242.3 1040.0,243.9 1040.5,241.2 1041.0,244.6 1041.5,241.3 1042.0,242.0 1042.5,242.2 1043.0,243.2 1043.5,240.6 1044.0,239.6 1044.5,242.7 1045.0,242.9 1045.5,242.7 1046.0,244.6 1046.5,242.2 1047.0,242.3 1047.5,243.1 1048.0,242.4 1048.5,243.9 1049.0,240.6 1049.5,241.6 1050.0,239.4 1050.5,242.9 1051.0,241.6 1051.5,243.1 1052.0,244.5 1052.5,242.0 1053.0,241.7 1053.5,241.4 1054.0,241.0 1054.5,241.3 1055.0,242.7 1055.5,242.0 1056.0,242.1 1056.5,241.8 1057.0,243.1 1057.5,242.6 1058.0,241.8 1058.5,242.8 1059.0,241.8 1059.5,240.7 1060.0,243.7 1060.5,242.5 1061.0,240.9 1061.5,243.2 1062.0,242.4 1062.5,240.2 1063.0,243.9 1063.5,242.4 1064.0,243.0 1064.5,242.2 1065.0,241.8 1065.5,240.2 1066.0,243.1 1066.5,242.0 1067.0,241.7 1067.5,242.4 1068.0,242.1 1068.5,242.8 1069.0,241.6 1069.5,242.0 1070.0,239.5 1070.5,241.5 1071.0,242.8 1071.5,243.5 1072.0,241.6 1072.5,241.9 1073.0,243.8 1073.5,241.6 1074.0,242.8 1074.5,243.9 1075.0,242.0 1075.5,243.4 1076.0,241.2 1076.5,242.2 1077.0,241.9 1077.5,242.1 1078.0,243.3 1078.5,244.6 1079.0,241.2 1079.5,241.3 1080.0,242.6 1080.5,240.8 1081.0,242.6 1081.5,242.7 1082.0,241.7 1082.5,242.6 1083.0,240.2 1083.5,242.9 1084.0,240.2 1084.5,241.2 1085.0,241.4 1085.5,241.5 1086.0,243.0 1086.5,242.1 1087.0,241.5 1087.5,242.6 1088.0,243.8 1088.5,242.0 1089.0,242.4 1089.5,243.4 1090.0,242.3 1090.5,240.5 1091.0,244.6 1091.5,244.5 1092.0,239.7 1092.5,242.0 1093.0,242.5 1093.5,243.1 1094.0,242.8 1094.5,241.7 1095.0,239.5 1095.5,242.2 1096.0,244.5 1096.5,239.4 1097.0,239.5 1097.5,241.9 1098.0,237.4 1098.5,241.4 1099.0,241.0 1099.5,243.1 1100.0,240.3 1100.5,239.9 1101.0,241.1 1101.5,241.9 1102.0,240.4 1102.5,242.0 1103.0,243.8 1103.5,244.8 1104.0,246.1 1104.5,240.1 1105.0,241.0 1105.5,253.0 1106.0,246.6 1106.5,225.0 1107.0,241.9 1107.5,243.3 1108.0,238.7 1108.5,243.1 1109.0,241.9 1109.5,237.6 1110.0,242.7 1110.5,244.9 1111.0,237.5 1111.5,243.9 1112.0,242.3 1112.5,242.6 1113.0,242.6 1113.5,243.8 1114.0,241.7 1114.5,243.2 1115.0,241.4 1115.5,243.0 1116.0,240.9 1116.5,241.9 1117.0,244.3 1117.5,242.6 1118.0,241.8 1118.5,240.5 1119.0,240.9 1119.5,242.3 1120.0,243.3 1120.5,242.6 1121.0,242.7 1121.5,241.9 1122.0,243.8 1122.5,241.5 1123.0,241.3 1123.5,243.2 1124.0,242.1 1124.5,241.6 1125.0,241.2 1125.5,241.7 1126.0,242.8 1126.5,242.5 1127.0,240.4 1127.5,242.6 1128.0,242.2 1128.5,240.6 1129.0,243.0 1129.5,241.6 1130.0,241.5 1130.5,243.1 1131.0,243.8 1131.5,241.1 1132.0,242.6 1132.5,240.8 1133.0,245.1 1133.5,241.3 1134.0,243.6 1134.5,241.1 1135.0,243.1 1135.5,245.0 1136.0,238.9 1136.5,241.4 1137.0,242.7 1137.5,241.9 1138.0,241.1 1138.5,244.9 1139.0,242.1 1139.5,239.8 1140.0,243.2 1140.5,239.7 1141.0,243.6 1141.5,241.2 1142.0,242.2 1142.5,243.7 1143.0,242.2 1143.5,240.1 1144.0,239.7 1144.5,243.6 1145.0,243.0 1145.5,240.9 1146.0,243.2 1146.5,242.7 1147.0,242.9 1147.5,239.0" fill="none" stroke="#FFFF00" stroke-width="1"/>
<rect x="665.50" y="65.50" width="501.00" height="253.00" fill="none" stroke="#000" stroke-width="1"/>
<line x1="736.00" y1="318.50" x2="1076.00" y2="318.50" stroke="#000" stroke-width="1"/>
<line x1="736.50" y1="318.00" x2="736.50" y2="327.00" stroke="#000" stroke-width="1"/>
<text transform="translate(736.70 348.23) scale(1 1.085)" text-anchor="middle" font-size="13.33">2022</text>
<line x1="849.50" y1="318.00" x2="849.50" y2="327.00" stroke="#000" stroke-width="1"/>
<text transform="translate(849.60 348.23) scale(1 1.085)" text-anchor="middle" font-size="13.33">2023</text>
<line x1="962.50" y1="318.00" x2="962.50" y2="327.00" stroke="#000" stroke-width="1"/>
<text transform="translate(962.50 348.23) scale(1 1.085)" text-anchor="middle" font-size="13.33">2024</text>
<line x1="1075.50" y1="318.00" x2="1075.50" y2="327.00" stroke="#000" stroke-width="1"/>
<text transform="translate(1075.70 348.23) scale(1 1.085)" text-anchor="middle" font-size="13.33">2025</text>
<line x1="665.50" y1="67.00" x2="665.50" y2="312.00" stroke="#000" stroke-width="1"/>
<line x1="657.00" y1="311.50" x2="666.00" y2="311.50" stroke="#000" stroke-width="1"/>
<text transform="translate(646.94 311.02) rotate(-90) scale(1 1.085)" text-anchor="middle" font-size="13.33">-0.4</text>
<line x1="657.00" y1="276.50" x2="666.00" y2="276.50" stroke="#000" stroke-width="1"/>
<text transform="translate(646.94 276.26) rotate(-90) scale(1 1.085)" text-anchor="middle" font-size="13.33">-0.2</text>
<line x1="657.00" y1="241.50" x2="666.00" y2="241.50" stroke="#000" stroke-width="1"/>
<text transform="translate(646.94 241.50) rotate(-90) scale(1 1.085)" text-anchor="middle" font-size="13.33">0.0</text>
<line x1="657.00" y1="206.50" x2="666.00" y2="206.50" stroke="#000" stroke-width="1"/>
<text transform="translate(646.94 206.74) rotate(-90) scale(1 1.085)" text-anchor="middle" font-size="13.33">0.2</text>
<line x1="657.00" y1="171.50" x2="666.00" y2="171.50" stroke="#000" stroke-width="1"/>
<text transform="translate(646.94 171.98) rotate(-90) scale(1 1.085)" text-anchor="middle" font-size="13.33">0.4</text>
<line x1="657.00" y1="137.50" x2="666.00" y2="137.50" stroke="#000" stroke-width="1"/>
<text transform="translate(646.94 137.22) rotate(-90) scale(1 1.085)" text-anchor="middle" font-size="13.33">0.6</text>
<line x1="657.00" y1="102.50" x2="666.00" y2="102.50" stroke="#000" stroke-width="1"/>
<text transform="translate(646.94 102.46) rotate(-90) scale(1 1.085)" text-anchor="middle" font-size="13.33">0.8</text>
<line x1="657.00" y1="67.50" x2="666.00" y2="67.50" stroke="#000" stroke-width="1"/>
<text transform="translate(646.94 67.70) rotate(-90) scale(1 1.085)" text-anchor="middle" font-size="13.33">1.0</text>
<text x="740.70" y="40.00" text-anchor="start" font-size="16" font-weight="bold" textLength="348.4" lengthAdjust="spacing">SERA versus S&amp;P500 stock return time-series</text>
<rect x="1002.5" y="65.5" width="164" height="48" fill="#fff" stroke="#000"/>
<line x1="1014.00" y1="81.30" x2="1039.00" y2="81.30" stroke="#0000FF" stroke-width="2"/>
<line x1="1014.00" y1="97.50" x2="1040.00" y2="97.50" stroke="#FFFF00" stroke-width="1"/>
<text transform="translate(1049.50 87.00) scale(1 1.1)" text-anchor="start" font-size="13" textLength="109.2" lengthAdjust="spacing">SERA stock return</text>
<text transform="translate(1049.80 103.00) scale(1 1.1)" text-anchor="start" font-size="13" textLength="109.6" lengthAdjust="spacing">GSPC stock return</text>
<line x1="65.00" y1="709.50" x2="567.00" y2="709.50" stroke="#BEBEBE" stroke-width="1"/>
<polyline points="75.0,709.0 140.0,708.7 150.0,708.0 165.3,707.6 173.3,707.3 176.7,706.0 180.0,704.4 183.3,702.7 186.0,700.7 190.0,698.3 194.7,696.0 197.3,693.3 200.0,689.3 203.3,685.3 206.0,680.0 208.7,674.0 211.3,668.7 214.0,665.3 216.7,663.6 219.3,665.3 222.0,669.3 224.7,674.7 228.0,680.0 231.3,686.0 234.0,690.7 235.3,696.0 238.0,700.0 241.3,702.0 246.7,703.3 253.3,705.3 260.0,706.3 266.7,707.6 288.0,708.0 300.0,708.7 558.0,709.0" fill="none" stroke="#228B22" stroke-width="2" stroke-linejoin="round"/>
<path d="M194 708h1v1h-1zM195 708h1v1h-1zM196 708h1v1h-1zM197 708h1v1h-1zM199 708h1v1h-1zM200 708h1v1h-1zM205 708h1v1h-1zM206 707h1v2h-1zM207 705h1v3h-1zM208 701h1v5h-1zM209 695h1v7h-1zM210 686h1v10h-1zM211 673h1v14h-1zM212 657h1v17h-1zM213 637h1v21h-1zM214 610h1v28h-1zM215 567h1v43h-1zM216 511h1v56h-1zM217 475h1v36h-1zM218 474h1v21h-1zM219 495h1v55h-1zM220 550h1v49h-1zM221 598h1v32h-1zM222 630h1v22h-1zM223 651h1v18h-1zM224 668h1v15h-1zM225 682h1v11h-1zM226 692h1v8h-1zM227 699h1v6h-1zM228 704h1v3h-1zM229 706h1v3h-1zM230 708h1v1h-1zM231 708h1v1h-1zM235 708h1v1h-1zM236 708h1v1h-1zM237 708h1v1h-1zM247 708h1v1h-1zM248 708h1v1h-1zM249 708h1v1h-1z" fill="#FFA500"/>
<rect x="65.50" y="465.50" width="501.00" height="253.00" fill="none" stroke="#000" stroke-width="1"/>
<line x1="80.00" y1="718.50" x2="562.00" y2="718.50" stroke="#000" stroke-width="1"/>
<line x1="80.50" y1="718.00" x2="80.50" y2="727.00" stroke="#000" stroke-width="1"/>
<text transform="translate(80.45 748.23) scale(1 1.085)" text-anchor="middle" font-size="13.33">-0.4</text>
<line x1="149.50" y1="718.00" x2="149.50" y2="727.00" stroke="#000" stroke-width="1"/>
<text transform="translate(149.15 748.23) scale(1 1.085)" text-anchor="middle" font-size="13.33">-0.2</text>
<line x1="217.50" y1="718.00" x2="217.50" y2="727.00" stroke="#000" stroke-width="1"/>
<text transform="translate(217.85 748.23) scale(1 1.085)" text-anchor="middle" font-size="13.33">0.0</text>
<line x1="286.50" y1="718.00" x2="286.50" y2="727.00" stroke="#000" stroke-width="1"/>
<text transform="translate(286.55 748.23) scale(1 1.085)" text-anchor="middle" font-size="13.33">0.2</text>
<line x1="355.50" y1="718.00" x2="355.50" y2="727.00" stroke="#000" stroke-width="1"/>
<text transform="translate(355.25 748.23) scale(1 1.085)" text-anchor="middle" font-size="13.33">0.4</text>
<line x1="423.50" y1="718.00" x2="423.50" y2="727.00" stroke="#000" stroke-width="1"/>
<text transform="translate(423.95 748.23) scale(1 1.085)" text-anchor="middle" font-size="13.33">0.6</text>
<line x1="492.50" y1="718.00" x2="492.50" y2="727.00" stroke="#000" stroke-width="1"/>
<text transform="translate(492.65 748.23) scale(1 1.085)" text-anchor="middle" font-size="13.33">0.8</text>
<line x1="561.50" y1="718.00" x2="561.50" y2="727.00" stroke="#000" stroke-width="1"/>
<text transform="translate(561.35 748.23) scale(1 1.085)" text-anchor="middle" font-size="13.33">1.0</text>
<line x1="65.50" y1="477.00" x2="65.50" y2="710.00" stroke="#000" stroke-width="1"/>
<line x1="57.00" y1="709.50" x2="66.00" y2="709.50" stroke="#000" stroke-width="1"/>
<text transform="translate(46.94 709.30) rotate(-90) scale(1 1.085)" text-anchor="middle" font-size="13.33">0</text>
<line x1="57.00" y1="662.50" x2="66.00" y2="662.50" stroke="#000" stroke-width="1"/>
<text transform="translate(46.94 662.94) rotate(-90) scale(1 1.085)" text-anchor="middle" font-size="13.33">10</text>
<line x1="57.00" y1="616.50" x2="66.00" y2="616.50" stroke="#000" stroke-width="1"/>
<text transform="translate(46.94 616.58) rotate(-90) scale(1 1.085)" text-anchor="middle" font-size="13.33">20</text>
<line x1="57.00" y1="570.50" x2="66.00" y2="570.50" stroke="#000" stroke-width="1"/>
<text transform="translate(46.94 570.22) rotate(-90) scale(1 1.085)" text-anchor="middle" font-size="13.33">30</text>
<line x1="57.00" y1="523.50" x2="66.00" y2="523.50" stroke="#000" stroke-width="1"/>
<text transform="translate(46.94 523.86) rotate(-90) scale(1 1.085)" text-anchor="middle" font-size="13.33">40</text>
<line x1="57.00" y1="477.50" x2="66.00" y2="477.50" stroke="#000" stroke-width="1"/>
<text transform="translate(46.94 477.50) rotate(-90) scale(1 1.085)" text-anchor="middle" font-size="13.33">50</text>
<text x="138.30" y="440.00" text-anchor="start" font-size="16" font-weight="bold" textLength="353.6" lengthAdjust="spacing">SERA versus S&amp;P500 stock return distribution</text>
<rect x="65.5" y="465.5" width="195" height="48" fill="#fff" stroke="#000"/>
<line x1="77.00" y1="481.30" x2="102.00" y2="481.30" stroke="#228B22" stroke-width="2"/>
<line x1="77.00" y1="497.50" x2="103.00" y2="497.50" stroke="#FFA500" stroke-width="1"/>
<text transform="translate(112.40 487.00) scale(1 1.1)" text-anchor="start" font-size="13" textLength="140.5" lengthAdjust="spacing">SERA return distribution</text>
<text transform="translate(112.40 503.00) scale(1 1.1)" text-anchor="start" font-size="13" textLength="141.9" lengthAdjust="spacing">GSPC return distribution</text>
<clipPath id="c4"><rect x="665.34" y="465.34" width="501.20" height="253.39"/></clipPath><g clip-path="url(#c4)">
<rect x="683.90" y="715.30" width="5.21" height="1.00" fill="#0000FF" stroke="#000" stroke-width="1"/>
<line x1="689.00" y1="716.50" x2="695.00" y2="716.50" stroke="#000" stroke-width="1"/>
<line x1="699.00" y1="716.50" x2="705.00" y2="716.50" stroke="#000" stroke-width="1"/>
<line x1="704.00" y1="716.50" x2="710.00" y2="716.50" stroke="#000" stroke-width="1"/>
<line x1="715.00" y1="716.50" x2="721.00" y2="716.50" stroke="#000" stroke-width="1"/>
<line x1="720.00" y1="716.50" x2="726.00" y2="716.50" stroke="#000" stroke-width="1"/>
<line x1="730.00" y1="716.50" x2="737.00" y2="716.50" stroke="#000" stroke-width="1"/>
<line x1="736.00" y1="716.50" x2="742.00" y2="716.50" stroke="#000" stroke-width="1"/>
<rect x="746.47" y="714.18" width="5.21" height="2.12" fill="#0000FF" stroke="#000" stroke-width="1"/>
<line x1="751.00" y1="716.50" x2="757.00" y2="716.50" stroke="#000" stroke-width="1"/>
<rect x="762.11" y="712.58" width="5.21" height="3.72" fill="#0000FF" stroke="#000" stroke-width="1"/>
<line x1="767.00" y1="716.50" x2="773.00" y2="716.50" stroke="#000" stroke-width="1"/>
<rect x="777.75" y="698.50" width="5.21" height="17.80" fill="#0000FF" stroke="#000" stroke-width="1"/>
<line x1="782.00" y1="716.50" x2="789.00" y2="716.50" stroke="#000" stroke-width="1"/>
<rect x="793.39" y="667.43" width="5.21" height="48.87" fill="#0000FF" stroke="#000" stroke-width="1"/>
<rect x="798.61" y="712.58" width="5.21" height="3.72" fill="#FFFF00" stroke="#000" stroke-width="1"/>
<rect x="809.04" y="600.50" width="5.21" height="115.80" fill="#0000FF" stroke="#000" stroke-width="1"/>
<rect x="814.25" y="465.31" width="5.21" height="250.99" fill="#FFFF00" stroke="#000" stroke-width="1"/>
<rect x="824.68" y="653.62" width="5.21" height="62.68" fill="#0000FF" stroke="#000" stroke-width="1"/>
<rect x="829.89" y="698.50" width="5.21" height="17.80" fill="#FFFF00" stroke="#000" stroke-width="1"/>
<rect x="840.32" y="702.49" width="5.21" height="13.81" fill="#0000FF" stroke="#000" stroke-width="1"/>
<rect x="845.53" y="715.30" width="5.21" height="1.00" fill="#FFFF00" stroke="#000" stroke-width="1"/>
<rect x="855.96" y="710.46" width="5.21" height="5.84" fill="#0000FF" stroke="#000" stroke-width="1"/>
<line x1="861.00" y1="716.50" x2="867.00" y2="716.50" stroke="#000" stroke-width="1"/>
<rect x="871.60" y="714.18" width="5.21" height="2.12" fill="#0000FF" stroke="#000" stroke-width="1"/>
<line x1="876.00" y1="716.50" x2="883.00" y2="716.50" stroke="#000" stroke-width="1"/>
<rect x="887.25" y="715.30" width="5.21" height="1.00" fill="#0000FF" stroke="#000" stroke-width="1"/>
<line x1="892.00" y1="716.50" x2="898.00" y2="716.50" stroke="#000" stroke-width="1"/>
<rect x="902.89" y="715.30" width="5.21" height="1.00" fill="#0000FF" stroke="#000" stroke-width="1"/>
<line x1="908.00" y1="716.50" x2="914.00" y2="716.50" stroke="#000" stroke-width="1"/>
<rect x="918.53" y="715.30" width="5.21" height="1.00" fill="#0000FF" stroke="#000" stroke-width="1"/>
<line x1="923.00" y1="716.50" x2="929.00" y2="716.50" stroke="#000" stroke-width="1"/>
<line x1="934.00" y1="716.50" x2="940.00" y2="716.50" stroke="#000" stroke-width="1"/>
<line x1="939.00" y1="716.50" x2="945.00" y2="716.50" stroke="#000" stroke-width="1"/>
<line x1="949.00" y1="716.50" x2="956.00" y2="716.50" stroke="#000" stroke-width="1"/>
<line x1="955.00" y1="716.50" x2="961.00" y2="716.50" stroke="#000" stroke-width="1"/>
<line x1="965.00" y1="716.50" x2="971.00" y2="716.50" stroke="#000" stroke-width="1"/>
<line x1="970.00" y1="716.50" x2="976.00" y2="716.50" stroke="#000" stroke-width="1"/>
<line x1="981.00" y1="716.50" x2="987.00" y2="716.50" stroke="#000" stroke-width="1"/>
<line x1="986.00" y1="716.50" x2="992.00" y2="716.50" stroke="#000" stroke-width="1"/>
<rect x="996.74" y="715.30" width="5.21" height="1.00" fill="#0000FF" stroke="#000" stroke-width="1"/>
<line x1="1001.00" y1="716.50" x2="1008.00" y2="716.50" stroke="#000" stroke-width="1"/>
<line x1="1012.00" y1="716.50" x2="1018.00" y2="716.50" stroke="#000" stroke-width="1"/>
<line x1="1017.00" y1="716.50" x2="1023.00" y2="716.50" stroke="#000" stroke-width="1"/>
<line x1="1028.00" y1="716.50" x2="1034.00" y2="716.50" stroke="#000" stroke-width="1"/>
<line x1="1033.00" y1="716.50" x2="1039.00" y2="716.50" stroke="#000" stroke-width="1"/>
<line x1="1043.00" y1="716.50" x2="1049.00" y2="716.50" stroke="#000" stroke-width="1"/>
<line x1="1048.00" y1="716.50" x2="1055.00" y2="716.50" stroke="#000" stroke-width="1"/>
<rect x="1059.31" y="715.30" width="5.21" height="1.00" fill="#0000FF" stroke="#000" stroke-width="1"/>
<line x1="1064.00" y1="716.50" x2="1070.00" y2="716.50" stroke="#000" stroke-width="1"/>
<line x1="1074.00" y1="716.50" x2="1081.00" y2="716.50" stroke="#000" stroke-width="1"/>
<line x1="1080.00" y1="716.50" x2="1086.00" y2="716.50" stroke="#000" stroke-width="1"/>
<line x1="1090.00" y1="716.50" x2="1096.00" y2="716.50" stroke="#000" stroke-width="1"/>
<line x1="1095.00" y1="716.50" x2="1102.00" y2="716.50" stroke="#000" stroke-width="1"/>
<line x1="1106.00" y1="716.50" x2="1112.00" y2="716.50" stroke="#000" stroke-width="1"/>
<line x1="1111.00" y1="716.50" x2="1117.00" y2="716.50" stroke="#000" stroke-width="1"/>
<line x1="1121.00" y1="716.50" x2="1128.00" y2="716.50" stroke="#000" stroke-width="1"/>
<line x1="1127.00" y1="716.50" x2="1133.00" y2="716.50" stroke="#000" stroke-width="1"/>
<line x1="1137.00" y1="716.50" x2="1143.00" y2="716.50" stroke="#000" stroke-width="1"/>
<line x1="1142.00" y1="716.50" x2="1148.00" y2="716.50" stroke="#000" stroke-width="1"/>
</g>
<rect x="665.50" y="465.50" width="501.00" height="253.00" fill="none" stroke="#000" stroke-width="1"/>
<line x1="665.50" y1="503.00" x2="665.50" y2="717.00" stroke="#000" stroke-width="1"/>
<line x1="657.00" y1="716.50" x2="666.00" y2="716.50" stroke="#000" stroke-width="1"/>
<text transform="translate(646.94 716.30) rotate(-90) scale(1 1.085)" text-anchor="middle" font-size="13.33">0</text>
<line x1="657.00" y1="663.50" x2="666.00" y2="663.50" stroke="#000" stroke-width="1"/>
<text transform="translate(646.94 663.18) rotate(-90) scale(1 1.085)" text-anchor="middle" font-size="13.33">200</text>
<line x1="657.00" y1="610.50" x2="666.00" y2="610.50" stroke="#000" stroke-width="1"/>
<text transform="translate(646.94 610.06) rotate(-90) scale(1 1.085)" text-anchor="middle" font-size="13.33">400</text>
<line x1="657.00" y1="556.50" x2="666.00" y2="556.50" stroke="#000" stroke-width="1"/>
<text transform="translate(646.94 556.94) rotate(-90) scale(1 1.085)" text-anchor="middle" font-size="13.33">600</text>
<line x1="657.00" y1="503.50" x2="666.00" y2="503.50" stroke="#000" stroke-width="1"/>
<text transform="translate(646.94 503.82) rotate(-90) scale(1 1.085)" text-anchor="middle" font-size="13.33">800</text>
<text transform="translate(649.50 748.23) scale(1 1.1)" text-anchor="start" font-size="13" textLength="78.5" lengthAdjust="spacing">[-0.39,-0.345)</text>
<text transform="translate(739.75 748.23) scale(1 1.1)" text-anchor="start" font-size="13" textLength="84.3" lengthAdjust="spacing">[-0.12,-0.0745)</text>
<text transform="translate(837.75 748.23) scale(1 1.1)" text-anchor="start" font-size="13" textLength="76.6" lengthAdjust="spacing">[0.151,0.196)</text>
<text transform="translate(932.00 748.23) scale(1 1.1)" text-anchor="start" font-size="13" textLength="76.2" lengthAdjust="spacing">[0.421,0.466)</text>
<text transform="translate(1025.70 748.23) scale(1 1.1)" text-anchor="start" font-size="13" textLength="76.3" lengthAdjust="spacing">[0.691,0.736)</text>
<text x="722.00" y="440.00" text-anchor="start" font-size="16" font-weight="bold" textLength="387.4" lengthAdjust="spacing">SERA versus S&amp;P500 return frequency distribution</text>
<text transform="translate(897.50 780.00) scale(1 1.1)" text-anchor="start" font-size="13" textLength="33.2" lengthAdjust="spacing">return</text>
<text transform="translate(615.00 592.53) rotate(-90) scale(1 1.1)" text-anchor="middle" font-size="13">frequency</text>
<rect x="993.5" y="465.5" width="173" height="48" fill="#fff" stroke="#000"/>
<rect x="1005.5" y="477.5" width="9" height="8" fill="#0000FF" stroke="#000"/>
<rect x="1005.5" y="493.5" width="9" height="8" fill="#FFFF00" stroke="#000"/>
<text transform="translate(1025.50 487.00) scale(1 1.1)" text-anchor="start" font-size="13" textLength="132.4" lengthAdjust="spacing">SERA return frequency</text>
<text transform="translate(1025.70 503.00) scale(1 1.1)" text-anchor="start" font-size="13" textLength="133.6" lengthAdjust="spacing">GSPC return frequency</text>
</svg>
</body></html>
